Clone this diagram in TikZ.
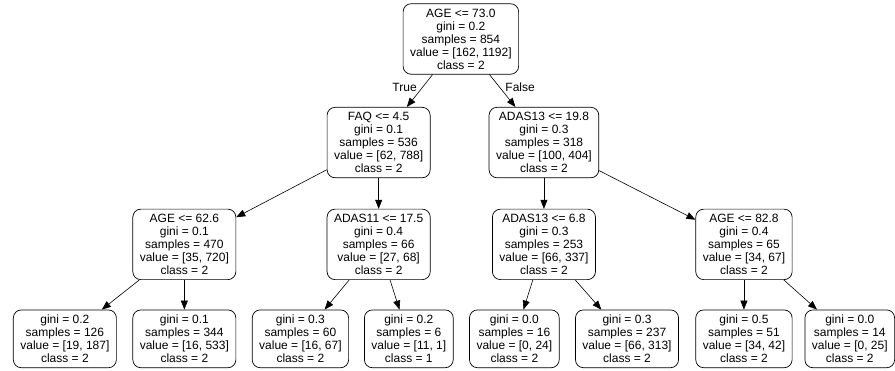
\documentclass[tikz,border=0pt]{standalone}
\usepackage{fontspec}
\setmainfont{Liberation Sans}
\usetikzlibrary{arrows.meta}
\begin{document}
\begin{tikzpicture}[
        split/.style={draw, rectangle, rounded corners=8pt, align=center, inner xsep=7pt, inner ysep=5pt, line width=0.7pt, font=\fontsize{12}{13}\selectfont},
        edge/.style={-{Triangle[length=9pt, width=7pt]}, line width=0.6pt},
        branch/.style={font=\fontsize{12}{13}\selectfont}
    ]
            \useasboundingbox (0, 0) rectangle (31.46, -13.04);

            % root and first split
            \node (root) [split] at (16.20, -1.37) {AGE <= 73.0\\gini = 0.2\\samples = 854\\value = [162, 1192]\\class = 2};
            \node (faq) [split] at (13.31, -5.01) {FAQ <= 4.5\\gini = 0.1\\samples = 536\\value = [62, 788]\\class = 2};
            \node (adas13_hi) [split] at (19.12, -5.01) {ADAS13 <= 19.8\\gini = 0.3\\samples = 318\\value = [100, 404]\\class = 2};

            % second level
            \node (age_lo) [split] at (6.48, -8.59) {AGE <= 62.6\\gini = 0.1\\samples = 470\\value = [35, 720]\\class = 2};
            \node (adas11) [split] at (13.31, -8.59) {ADAS11 <= 17.5\\gini = 0.4\\samples = 66\\value = [27, 68]\\class = 2};
            \node (adas13_lo) [split] at (19.12, -8.59) {ADAS13 <= 6.8\\gini = 0.3\\samples = 253\\value = [66, 337]\\class = 2};
            \node (age_hi) [split] at (26.15, -8.59) {AGE <= 82.8\\gini = 0.4\\samples = 65\\value = [34, 67]\\class = 2};

            % leaves
            \node (leaf_126) [split] at (2.28, -11.91) {gini = 0.2\\samples = 126\\value = [19, 187]\\class = 2};
            \node (leaf_344) [split] at (6.48, -11.91) {gini = 0.1\\samples = 344\\value = [16, 533]\\class = 2};
            \node (leaf_60) [split] at (10.56, -11.91) {gini = 0.3\\samples = 60\\value = [16, 67]\\class = 2};
            \node (leaf_6) [split] at (14.37, -11.91) {gini = 0.2\\samples = 6\\value = [11, 1]\\class = 1};
            \node (leaf_16) [split] at (18.08, -11.91) {gini = 0.0\\samples = 16\\value = [0, 24]\\class = 2};
            \node (leaf_237) [split] at (22.04, -11.91) {gini = 0.3\\samples = 237\\value = [66, 313]\\class = 2};
            \node (leaf_51) [split] at (26.15, -11.91) {gini = 0.5\\samples = 51\\value = [34, 42]\\class = 2};
            \node (leaf_14) [split] at (29.87, -11.91) {gini = 0.0\\samples = 14\\value = [0, 25]\\class = 2};

            \draw[edge] (root) -- node[branch, left=2pt, pos=0.4] {True} (faq);
            \draw[edge] (root) -- node[branch, right=2pt, pos=0.4] {False} (adas13_hi);

            \draw[edge] (faq) -- (age_lo);
            \draw[edge] (faq) -- (adas11);
            \draw[edge] (adas13_hi) -- (adas13_lo);
            \draw[edge] (adas13_hi) -- (age_hi);

            \draw[edge] (age_lo) -- (leaf_126);
            \draw[edge] (age_lo) -- (leaf_344);
            \draw[edge] (adas11) -- (leaf_60);
            \draw[edge] (adas11) -- (leaf_6);
            \draw[edge] (adas13_lo) -- (leaf_16);
            \draw[edge] (adas13_lo) -- (leaf_237);
            \draw[edge] (age_hi) -- (leaf_51);
            \draw[edge] (age_hi) -- (leaf_14);
        \end{tikzpicture}
\end{document}
